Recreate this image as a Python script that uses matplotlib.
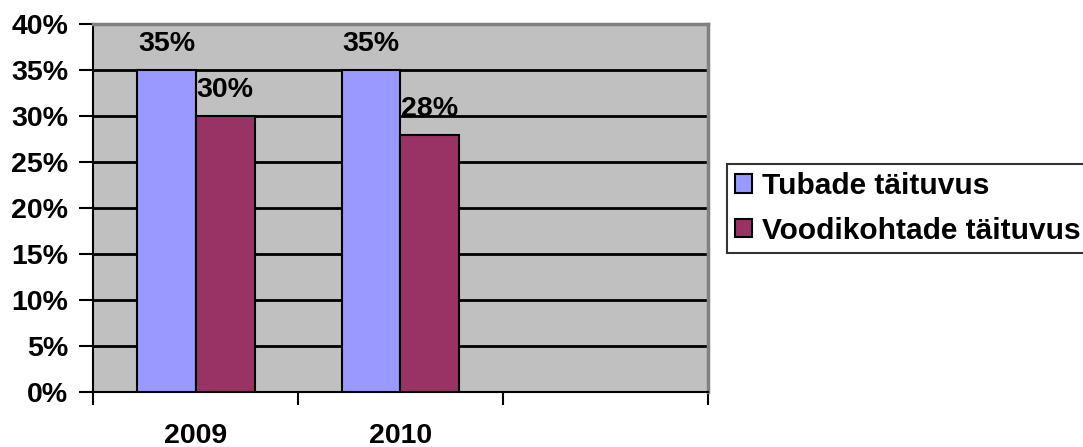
import matplotlib.pyplot as plt
import numpy as np

plt.rcParams['font.family'] = ['Liberation Sans', 'DejaVu Sans']
plt.rcParams['font.weight'] = 'bold'

years = ['2009', '2010', '']
tubad = [35, 35]
voodikohad = [30, 28]
series_names = ['Tubade täituvus', 'Voodikohtade täituvus']
colors = ['#9999FF', '#993366']

fig = plt.figure(figsize=(10.83, 4.47), dpi=100)
ax = fig.add_axes([0.0863, 0.1224, 0.5670, 0.8232])
ax.set_facecolor('#C0C0C0')

fs = 20.5
w = 0.287
x = np.arange(len(tubad))
b1 = ax.bar(x - w / 2, tubad, w, color=colors[0], edgecolor='black', linewidth=1.5,
            label=series_names[0], zorder=3)
b2 = ax.bar(x + w / 2, voodikohad, w, color=colors[1], edgecolor='black', linewidth=1.5,
            label=series_names[1], zorder=3)

# value labels above bars
for bars in (b1, b2):
    for r in bars:
        ax.annotate('%d%%' % r.get_height(), (r.get_x() + r.get_width() / 2, r.get_height()),
                    xytext=(0, 26), textcoords='offset pixels', ha='center', va='center',
                    fontsize=fs, fontweight='bold')

ax.set_xlim(-0.5, 2.5)
ax.set_ylim(0, 40)
yt = np.arange(0, 45, 5)
ax.set_yticks(yt)
ax.set_yticklabels(['%d%%' % v for v in yt], fontsize=fs, fontweight='bold')
for v in yt[1:-1]:
    ax.axhline(v, color='black', linewidth=2, zorder=1)

ax.set_xticks([0.5 + i for i in range(-1, 3)])
ax.set_xticklabels([])
ax.set_xticks(np.arange(len(years)), minor=True)
ax.set_xticklabels(years, minor=True, fontsize=fs, fontweight='bold')
ax.tick_params(axis='x', which='minor', length=0, pad=22)
ax.tick_params(axis='x', which='major', direction='out', length=9, width=1.5)
ax.tick_params(axis='y', direction='out', length=10, width=1.5, pad=8)

for s in ('top', 'right'):
    ax.spines[s].set_color('#808080')
    ax.spines[s].set_linewidth(2.5)
for s in ('left', 'bottom'):
    ax.spines[s].set_color('black')
    ax.spines[s].set_linewidth(1.5)

leg = fig.legend(loc='center left', bbox_to_anchor=(0.6713, 0.5336), borderaxespad=0,
                 frameon=True, fancybox=False, edgecolor='black', handlelength=0.57,
                 handleheight=0.57, handletextpad=0.33, borderpad=0.27, labelspacing=0.56,
                 prop={'weight': 'bold', 'size': 21.5})
leg.get_frame().set_linewidth(1.5)

fig.savefig('out.png', dpi=100)
